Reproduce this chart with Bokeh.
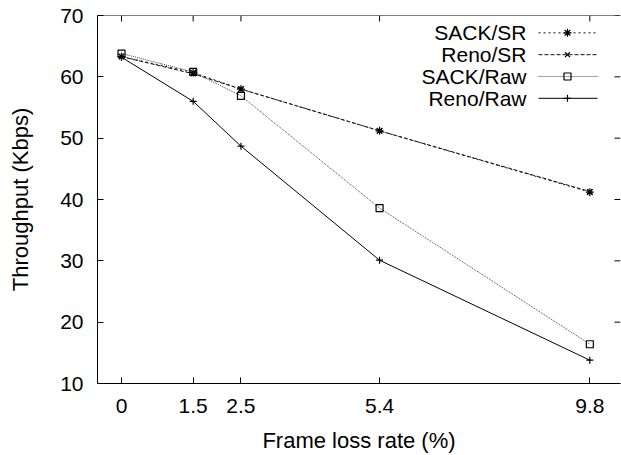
from bokeh.plotting import figure
from bokeh.models import Range1d, FixedTicker, Span
from bokeh.embed import file_html
from bokeh.resources import INLINE
from bokeh.core.properties import value

# ---- data ----
loss_rate = [0, 1.5, 2.5, 5.4, 9.8]
x_tick_labels = ["0", "1.5", "2.5", "5.4", "9.8"]
y_ticks = [10, 20, 30, 40, 50, 60, 70]

sack_sr = [63.3, 60.7, 58.0, 51.2, 41.2]
reno_sr = [63.3, 60.5, 58.0, 51.2, 41.3]
sack_raw = [63.8, 60.8, 56.9, 38.6, 16.4]
reno_raw = [63.2, 56.0, 48.7, 30.1, 13.8]

series_names = ["SACK/SR", "Reno/SR", "SACK/Raw", "Reno/Raw"]
series_values = [sack_sr, reno_sr, sack_raw, reno_raw]

# ---- styles ----
FONT = "Liberation Sans"
styles = [
    dict(dash="2 3", color="#111111", marker="asterisk", size=8),
    dict(dash="4 2", color="#111111", marker="x", size=7),
    dict(dash="1 1", color="#444444", marker="square", size=7),
    dict(dash="solid", color="#000000", marker="cross", size=7),
]

W, H = 621, 455
ML, MR, MT, MB = 97, 1, 15, 69
FW = W - ML - MR
FH = H - MT - MB
X0 = -0.502
XS = 47.79                      # px per x unit
X1 = X0 + FW / XS
Y0, Y1 = 10, 70
YS = FH / (Y1 - Y0)             # px per y unit
TICK = 6

p = figure(width=W, height=H, output_backend="svg", toolbar_location=None,
           x_range=Range1d(X0, X1), y_range=Range1d(Y0, Y1),
           min_border_left=ML, min_border_right=MR, min_border_top=MT, min_border_bottom=MB)
p.grid.visible = False
p.outline_line_color = None
p.background_fill_color = "white"
p.border_fill_color = "white"

for ax in (p.xaxis[0], p.yaxis[0]):
    ax.axis_line_color = "black"
    ax.axis_line_width = 1
    ax.major_tick_line_color = "black"
    ax.major_tick_in = TICK
    ax.major_tick_out = 0
    ax.minor_tick_line_color = None
    ax.major_label_text_font = FONT
    ax.major_label_text_color = "black"
    ax.major_label_text_font_size = "21px"
    ax.axis_label_text_font = FONT
    ax.axis_label_text_font_size = "22px"
    ax.axis_label_text_font_style = "normal"
    ax.axis_label_text_color = "black"

p.xaxis.ticker = FixedTicker(ticks=loss_rate)
p.xaxis.major_label_overrides = {t: l for t, l in zip(loss_rate, x_tick_labels)}
p.yaxis.ticker = FixedTicker(ticks=y_ticks)
p.xaxis.major_label_standoff = 15
p.yaxis.major_label_standoff = 14
p.xaxis.axis_label = "Frame loss rate (%)"
p.yaxis.axis_label = "Throughput (Kbps)"
p.xaxis.axis_label_standoff = 12
p.yaxis.axis_label_standoff = 24

# top border + mirrored ticks
p.add_layout(Span(location=Y1, dimension="width", line_color="black", line_width=1))
p.segment(x0=loss_rate, y0=[Y1] * len(loss_rate), x1=loss_rate,
          y1=[Y1 - TICK / YS] * len(loss_rate), line_color="black", line_width=1)
p.segment(x0=[X1] * len(y_ticks), y0=y_ticks, x1=[X1 - TICK / XS] * len(y_ticks),
          y1=y_ticks, line_color="black", line_width=1)

# ---- series ----
for name, vals, st in zip(series_names, series_values, styles):
    p.line(loss_rate, vals, line_color=st["color"], line_width=1, line_dash=st["dash"])
    p.scatter(loss_rate, vals, marker=st["marker"], size=st["size"],
              line_color="black", fill_color=None, line_width=1.2)

# ---- legend (label on the left, sample on the right) ----
def px_to_x(px):
    return X0 + (px - ML) / XS

def px_to_y(py):
    return Y1 - (py - MT) / YS

row_px = [32.5, 54.5, 76.5, 98.5]
text_x = px_to_x(526)
l0, l1, lm = px_to_x(538), px_to_x(597), px_to_x(567)
for name, st, rp in zip(series_names, styles, row_px):
    yy = px_to_y(rp)
    p.text([text_x], [yy], text=[name], text_align="right", text_baseline="middle",
           text_font=value(FONT), text_font_size="21px", text_color="black")
    p.line([l0, l1], [yy, yy], line_color=st["color"], line_width=1, line_dash=st["dash"])
    p.scatter([lm], [yy], marker=st["marker"], size=st["size"],
              line_color="black", fill_color=None, line_width=1.2)

open("out.html", "w").write(file_html(p, INLINE))
